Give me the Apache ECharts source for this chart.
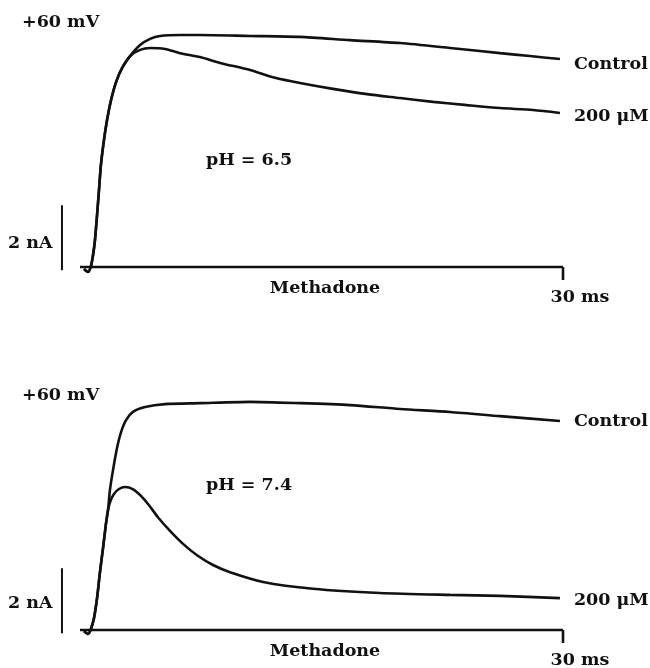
<!DOCTYPE html>
<html>
<head>
<meta charset="utf-8">
<script src="https://cdn.jsdelivr.net/npm/echarts/dist/echarts.min.js"></script>
<style>
  html, body { margin: 0; padding: 0; background: #fff; }
  #chart { width: 650px; height: 668px; }
</style>
</head>
<body>
<div id="chart"></div>
<script>
// time in ms, current in nA
// pH 6.5 panel
const riseT65 = [0.25, 0.5, 0.68, 0.81, 0.93, 1.06, 1.18, 1.30, 1.49, 1.68, 1.93, 2.24, 2.61, 3.11]
const riseI65 = [-0.06, -0.15, 0.03, 0.37, 0.83, 1.6, 2.37, 3.14, 3.91, 4.52, 5.14, 5.69, 6.12, 6.49]
const ctrlT65 = [3.73, 4.35, 4.97, 6.21, 7.45, 10.56, 13.66, 16.77, 19.88, 22.98, 26.09, 27.95, 29.81]
const ctrlI65 = [6.83, 7.02, 7.11, 7.14, 7.14, 7.11, 7.08, 6.98, 6.89, 6.74, 6.58, 6.49, 6.40]
const drugT65 = [3.73, 4.35, 5.28, 6.21, 7.45, 8.70, 10.56, 12.11, 13.66, 15.71, 17.83, 19.88, 21.93, 24.04, 26.09, 28.14, 29.81]
const drugI65 = [6.68, 6.74, 6.71, 6.58, 6.46, 6.28, 6.06, 5.82, 5.66, 5.48, 5.32, 5.2, 5.08, 4.98, 4.89, 4.83, 4.74]

// pH 7.4 panel
const riseT74 = [0.25, 0.5, 0.68, 0.87, 1.06, 1.24, 1.43, 1.61, 1.74]
const riseI74 = [-0.03, -0.12, 0.03, 0.37, 0.98, 1.78, 2.52, 3.26, 3.69]
const ctrlT74 = [1.86, 2.05, 2.30, 2.55, 2.86, 3.29, 4.04, 5.28, 7.45, 10.56, 13.66, 16.77, 19.88, 22.98, 26.09, 29.81]
const ctrlI74 = [4.31, 4.92, 5.6, 6.09, 6.46, 6.71, 6.86, 6.95, 6.98, 7.02, 6.98, 6.92, 6.80, 6.71, 6.58, 6.43]
const drugT74 = [1.90, 2.10, 2.40, 2.80, 3.30, 3.80, 4.30, 4.84, 5.59, 6.40, 7.27, 8.26, 9.32, 11.37, 14.47, 18.63, 22.98, 26.09, 29.81]
const drugI74 = [3.98, 4.18, 4.33, 4.40, 4.33, 4.12, 3.83, 3.47, 3.05, 2.65, 2.30, 2.00, 1.78, 1.48, 1.27, 1.14, 1.08, 1.05, 0.98]

const barT = [0, 30]        // methadone bar, 30 ms
const tickI = [0, -0.4]     // end tick
const scaleT = -1.12        // 2 nA scale bar position
const scaleI = [-0.1, 1.9]

const panelLabels = ['pH = 6.5', 'pH = 7.4']

const font = '"DejaVu Serif", serif'
const ink = '#111'
const fs = 17.5

function pairs(ts, is) {
  return ts.map((t, i) => [t, is[i]])
}

function trace(name, idx, ts, is, labelDy) {
  return {
    name: name,
    type: 'line',
    xAxisIndex: idx,
    yAxisIndex: idx,
    data: pairs(ts, is),
    smooth: 0.25,
    showSymbol: false,
    clip: false,
    silent: true,
    lineStyle: { color: ink, width: 2.6 },
    endLabel: {
      show: true,
      formatter: name,
      color: ink,
      fontFamily: font,
      fontWeight: 'bold',
      fontSize: fs,
      offset: [6, labelDy],
    },
  }
}

function straight(idx, data, w) {
  return {
    type: 'line',
    xAxisIndex: idx,
    yAxisIndex: idx,
    data: data,
    showSymbol: false,
    clip: false,
    silent: true,
    lineStyle: { color: ink, width: w },
  }
}

let series = []
// top panel
series.push(trace('Control', 0, riseT65.concat(ctrlT65), riseI65.concat(ctrlI65), 5))
series.push(trace('200 \u03bcM', 0, riseT65.concat(drugT65), riseI65.concat(drugI65), 4))
// bottom panel
series.push(trace('Control', 1, riseT74.concat(ctrlT74), riseI74.concat(ctrlI74), 0))
series.push(trace('200 \u03bcM', 1, riseT74.concat(drugT74), riseI74.concat(drugI74), 2))
for (let k = 0; k < 2; k++) {
  series.push(straight(k, [[barT[0], 0], [barT[1], 0]], 2.6))
  series.push(straight(k, [[barT[1], tickI[0]], [barT[1], tickI[1]]], 2.6))
  series.push(straight(k, [[scaleT, scaleI[0]], [scaleT, scaleI[1]]], 2))
}

function txt(x, y, text, align) {
  return {
    type: 'text',
    x: x,
    y: y,
    style: {
      text: text,
      fill: ink,
      font: 'bold ' + fs + 'px ' + font,
      textAlign: align,
      textVerticalAlign: 'middle',
    },
  }
}

// x axis starts 2 ms before the bar so the scale bar sits inside the grid
const chart = echarts.init(document.getElementById('chart'))
chart.setOption({
  animation: false,
  backgroundColor: '#fff',
  grid: [
    { left: 47.8, width: 515.2, top: 7, height: 260 },
    { left: 47.8, width: 515.2, top: 370, height: 260 },
  ],
  xAxis: [0, 1].map((i) => ({ type: 'value', gridIndex: i, min: -2, max: 30, show: false })),
  yAxis: [0, 1].map((i) => ({ type: 'value', gridIndex: i, min: 0, max: 8, show: false })),
  series: series,
  graphic: [
    txt(22, 22, '+60 mV', 'left'),
    txt(22, 395, '+60 mV', 'left'),
    txt(8, 243, '2 nA', 'left'),
    txt(8, 603, '2 nA', 'left'),
    txt(206, 160, panelLabels[0], 'left'),
    txt(206, 485, panelLabels[1], 'left'),
    txt(325, 288, 'Methadone', 'center'),
    txt(325, 651, 'Methadone', 'center'),
    txt(580, 297, '30 ms', 'center'),
    txt(580, 660, '30 ms', 'center'),
  ],
})
</script>
</body>
</html>
